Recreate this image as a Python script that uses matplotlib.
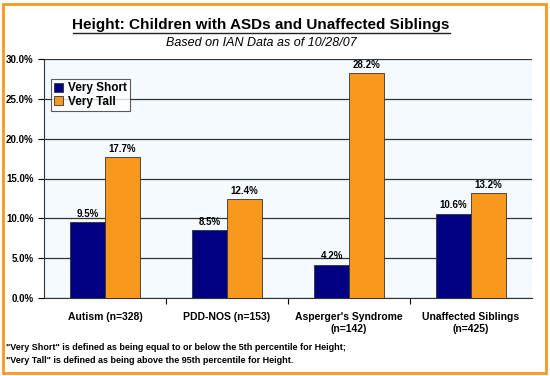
import matplotlib
matplotlib.use("Agg")
import matplotlib.pyplot as plt
import numpy as np
from matplotlib.patches import Rectangle
from matplotlib.ticker import PercentFormatter

categories = ["Autism (n=328)", "PDD-NOS (n=153)", "Asperger's Syndrome\n(n=142)",
              "Unaffected Siblings\n(n=425)"]
very_short = [9.5, 8.5, 4.2, 10.6]
very_tall = [17.7, 12.4, 28.2, 13.2]

plt.rcParams['font.family'] = ['Liberation Sans', 'DejaVu Sans']

fig = plt.figure(figsize=(5.5, 3.76), dpi=100)
ax = fig.add_axes([44 / 550, 1 - 298 / 376, 488 / 550, 239 / 376])
ax.set_facecolor('#F5FAFF')

x = np.arange(len(categories))
w = 0.285
ax.bar(x - w / 2, very_short, w, color='#000080', edgecolor='#333333', linewidth=0.6,
       label='Very Short', zorder=3)
ax.bar(x + w / 2, very_tall, w, color='#F8981D', edgecolor='#333333', linewidth=0.6,
       label='Very Tall', zorder=3)

for i, (s, t) in enumerate(zip(very_short, very_tall)):
    ax.text(i - w / 2, s + 0.4, f'{s:.1f}%', ha='center', va='bottom', fontsize=7, fontweight='bold')
    ax.text(i + w / 2, t + 0.4, f'{t:.1f}%', ha='center', va='bottom', fontsize=7, fontweight='bold')

ax.set_xlim(-0.5, len(categories) - 0.5)
ax.set_ylim(0, 30)
ax.set_yticks(np.arange(0, 30.1, 5))
ax.yaxis.set_major_formatter(PercentFormatter(decimals=1))
ax.grid(axis='y', color='#333333', linewidth=0.9, zorder=1)
ax.set_xticks(np.arange(0.5, len(categories) - 0.5), minor=False)
ax.set_xticklabels([])
ax.set_xticks(x, minor=True)
ax.set_xticklabels(categories, minor=True, fontsize=7.5, fontweight='bold', linespacing=1.25)
ax.tick_params(axis='x', which='minor', length=0, pad=10)
ax.tick_params(axis='x', which='major', length=4, direction='out')
ax.tick_params(axis='y', labelsize=7, length=4)
for lbl in ax.get_yticklabels():
    lbl.set_fontweight('bold')
for side in ['top', 'right']:
    ax.spines[side].set_visible(False)
ax.spines['left'].set_color('#333333')
ax.spines['bottom'].set_color('#333333')

leg = ax.legend(loc='upper left', bbox_to_anchor=(0.0, 0.945), fontsize=8.5, frameon=True,
                fancybox=False, edgecolor='#333333', handlelength=0.8, handleheight=0.8,
                borderpad=0.25, labelspacing=0.15, handletextpad=0.4, borderaxespad=0.6,
                prop={'weight': 'bold', 'size': 8.5})
leg.get_frame().set_linewidth(0.8)

fig.text(261 / 550, 1 - 25 / 376, 'Height: Children with ASDs and Unaffected Siblings',
         ha='center', va='center', fontsize=11, fontweight='bold')
fig.add_artist(plt.Line2D([73 / 550, 450 / 550], [1 - 33 / 376, 1 - 33 / 376],
                          color='#222222', linewidth=1.0))
fig.text(261 / 550, 1 - 43 / 376, 'Based on IAN Data as of 10/28/07', ha='center', va='center',
         fontsize=9, style='italic')

fig.text(6 / 550, 1 - 354 / 376,
         '"Very Short" is defined as being equal to or below the 5th percentile for Height;\n'
         '"Very Tall" is defined as being above the 95th percentile for Height.',
         ha='left', va='center', fontsize=6.5, fontweight='bold', linespacing=1.45)

fig.add_artist(Rectangle((3 / 550, 3 / 376), 543 / 550, 369 / 376, transform=fig.transFigure,
                         fill=False, edgecolor='#F8981D', linewidth=2))

fig.savefig('out.png', dpi=100)
